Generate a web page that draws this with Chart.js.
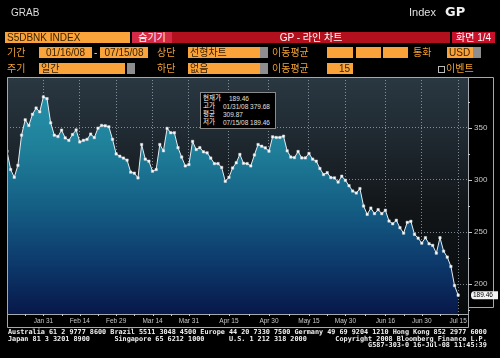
<!DOCTYPE html>
<html><head><meta charset="utf-8">
<script src="https://cdn.jsdelivr.net/npm/chart.js@4"></script>
<style>
html,body{margin:0;padding:0;background:#000;width:500px;height:358px;overflow:hidden;}
#wrap{position:relative;width:500px;height:358px;}
canvas{position:absolute;left:0;top:0;}
.t{position:absolute;font-family:"Liberation Sans","Noto Sans CJK KR",sans-serif;font-size:10px;line-height:11px;white-space:nowrap;}
.lbl{color:#f0a030;}
.box{position:absolute;background:#f9a33a;color:#3a2200;height:11px;font-family:"Liberation Sans","Noto Sans CJK KR",sans-serif;font-size:10px;line-height:11px;white-space:nowrap;overflow:hidden;box-sizing:border-box;padding-left:2px;}
.gray{position:absolute;background:#8e8e8e;height:11px;}
.red{position:absolute;color:#fff;height:11px;font-family:"Liberation Sans","Noto Sans CJK KR",sans-serif;font-size:10px;line-height:11px;text-align:center;white-space:nowrap;}
#info{position:absolute;left:200px;top:92px;width:76px;height:37px;background:#000;border:1px solid #8a8a8a;box-sizing:border-box;}
#info div{position:absolute;font-family:"Liberation Sans","Noto Sans CJK KR",sans-serif;font-size:6.5px;line-height:7px;color:#e0e0e0;white-space:nowrap;}
#foot{position:absolute;left:8px;top:329px;margin:0;font-family:"DejaVu Sans Mono","Liberation Mono",monospace;font-weight:bold;font-size:6.8px;line-height:6.6px;color:#f0f0f0;white-space:pre;}
</style></head>
<body><div id="wrap">
<canvas id="c" width="500" height="358"></canvas>

<div class="t" style="left:11px;top:7px;color:#dcdcdc;">GRAB</div>
<div class="t" style="left:409px;top:7px;color:#e0e0e0;font-size:11px;">Index</div>
<div class="t" style="left:445px;top:5px;color:#f0f0f0;font-size:13px;font-weight:bold;font-family:'DejaVu Sans',sans-serif;line-height:14px;">GP</div>

<!-- row 1 -->
<div class="box" style="left:5px;top:32px;width:125px;">S5DBNK INDEX</div>
<div class="red" style="left:132px;top:32px;width:40px;background:#d42a45;">숨기기</div>
<div class="red" style="left:172px;top:32px;width:278px;background:#b3101e;">GP - 라인 차트</div>
<div class="red" style="left:452px;top:32px;width:43px;background:#c8102a;">화면 1/4</div>

<!-- row 2 -->
<div class="t lbl" style="left:7px;top:47px;">기간</div>
<div class="box" style="left:39px;top:47px;width:53px;text-align:center;padding-left:0;">01/16/08</div>
<div class="t lbl" style="left:94px;top:47px;color:#ddd;">-</div>
<div class="box" style="left:100px;top:47px;width:48px;text-align:center;padding-left:0;">07/15/08</div>
<div class="t lbl" style="left:157px;top:47px;">상단</div>
<div class="box" style="left:188px;top:47px;width:72px;">선형차트</div>
<div class="gray" style="left:260px;top:47px;width:8px;"></div>
<div class="t lbl" style="left:272px;top:47px;">이동평균</div>
<div class="box" style="left:327px;top:47px;width:26px;"></div>
<div class="box" style="left:356px;top:47px;width:25px;"></div>
<div class="box" style="left:383px;top:47px;width:25px;"></div>
<div class="t lbl" style="left:413px;top:47px;">통화</div>
<div class="box" style="left:447px;top:47px;width:26px;">USD</div>
<div class="gray" style="left:473px;top:47px;width:8px;"></div>

<!-- row 3 -->
<div class="t lbl" style="left:7px;top:63px;">주기</div>
<div class="box" style="left:39px;top:63px;width:86px;">일간</div>
<div class="gray" style="left:127px;top:63px;width:8px;"></div>
<div class="t lbl" style="left:157px;top:63px;">하단</div>
<div class="box" style="left:188px;top:63px;width:72px;">없음</div>
<div class="gray" style="left:260px;top:63px;width:8px;"></div>
<div class="t lbl" style="left:272px;top:63px;">이동평균</div>
<div class="box" style="left:327px;top:63px;width:26px;text-align:right;padding-right:3px;">15</div>
<div style="position:absolute;left:438px;top:66px;width:5px;height:5px;border:1px solid #bbb;"></div>
<div class="t lbl" style="left:446px;top:63px;">이벤트</div>

<div id="info">
  <div style="left:2px;top:1px;color:#fff;">현재가</div><div style="left:28px;top:1.5px;">189.46</div>
  <div style="left:2px;top:9px;color:#fff;">고가</div><div style="left:22px;top:9.5px;">01/31/08 379.68</div>
  <div style="left:2px;top:17px;color:#fff;">평균</div><div style="left:22px;top:17.5px;">309.87</div>
  <div style="left:2px;top:25px;color:#fff;">저가</div><div style="left:22px;top:25.5px;">07/15/08 189.46</div>
</div>

<pre id="foot">Australia 61 2 9777 8600 Brazil 5511 3048 4500 Europe 44 20 7330 7500 Germany 49 69 9204 1210 Hong Kong 852 2977 6000
Japan 81 3 3201 8900      Singapore 65 6212 1000      U.S. 1 212 318 2000       Copyright 2008 Bloomberg Finance L.P.
                                                                                        G587-303-0 16-Jul-08 11:45:39</pre>
</div>

<script>
const dates = [
'01/16/08','01/17/08','01/18/08','01/22/08','01/23/08','01/24/08','01/25/08','01/28/08','01/29/08','01/30/08','01/31/08',
'02/01/08','02/04/08','02/05/08','02/06/08','02/07/08','02/08/08','02/11/08','02/12/08','02/13/08','02/14/08','02/15/08',
'02/19/08','02/20/08','02/21/08','02/22/08','02/25/08','02/26/08','02/27/08','02/28/08','02/29/08',
'03/03/08','03/04/08','03/05/08','03/06/08','03/07/08','03/10/08','03/11/08','03/12/08','03/13/08','03/14/08',
'03/17/08','03/18/08','03/19/08','03/20/08','03/24/08','03/25/08','03/26/08','03/27/08','03/28/08','03/31/08',
'04/01/08','04/02/08','04/03/08','04/04/08','04/07/08','04/08/08','04/09/08','04/10/08','04/11/08',
'04/14/08','04/15/08','04/16/08','04/17/08','04/18/08','04/21/08','04/22/08','04/23/08','04/24/08','04/25/08',
'04/28/08','04/29/08','04/30/08',
'05/01/08','05/02/08','05/05/08','05/06/08','05/07/08','05/08/08','05/09/08','05/12/08','05/13/08','05/14/08','05/15/08','05/16/08',
'05/19/08','05/20/08','05/21/08','05/22/08','05/23/08','05/27/08','05/28/08','05/29/08','05/30/08',
'06/02/08','06/03/08','06/04/08','06/05/08','06/06/08','06/09/08','06/10/08','06/11/08','06/12/08','06/13/08',
'06/16/08','06/17/08','06/18/08','06/19/08','06/20/08','06/23/08','06/24/08','06/25/08','06/26/08','06/27/08','06/30/08',
'07/01/08','07/02/08','07/03/08','07/07/08','07/08/08','07/09/08','07/10/08','07/11/08','07/14/08','07/15/08'
];
const values = [
327.6,310.0,302.6,314.0,343.0,357.7,352.3,363.0,369.0,365.4,379.68,
378.0,354.8,343.0,341.7,347.8,340.4,338.0,343.6,348.0,336.5,338.0,
339.0,344.0,340.7,349.7,352.3,352.0,351.0,339.0,325.0,
322.8,321.0,319.0,307.5,306.5,302.0,334.0,320.0,318.0,308.4,
310.0,334.0,328.0,349.5,345.3,345.3,331.0,322.0,313.5,314.8,
337.0,329.2,331.0,327.0,326.0,321.0,315.7,315.7,312.0,
298.7,302.5,311.5,316.5,324.5,316.0,315.7,313.5,324.0,334.0,
332.4,330.8,327.6,
341.4,340.8,340.8,342.0,328.0,322.0,321.5,327.3,321.2,321.2,325.4,320.0,
318.0,311.0,305.2,307.0,302.3,302.0,298.0,303.6,299.7,
294.5,289.4,287.5,291.7,275.0,267.0,273.0,267.7,271.5,267.7,
270.9,260.6,258.0,261.3,254.2,249.0,259.3,260.3,247.8,244.2,239.4,
244.6,238.8,237.2,229.8,244.6,231.7,226.0,217.0,198.7,189.46
];
const tickDates = ['01/31/08','02/14/08','02/29/08','03/14/08','03/31/08','04/15/08','04/30/08','05/15/08','05/30/08','06/16/08','06/30/08','07/15/08'];
const tickLabels = ['Jan 31','Feb 14','Feb 29','Mar 14','Mar 31','Apr 15','Apr 30','May 15','May 30','Jun 16','Jun 30','Jul 15'];
const yTicks = [200,250,300,350];
const yMinor = [175,200,225,250,275,300,325,350,375];

const tickIdx = tickDates.map(d => dates.indexOf(d));
const points = values.map((v,i) => ({x:i, y:v}));

const deco = {
  id:'deco',
  beforeDraw(chart){
    const {ctx, chartArea:a} = chart;
    ctx.save();
    const g = ctx.createLinearGradient(0,a.top,0,a.bottom);
    g.addColorStop(0,'#2a3842');
    g.addColorStop(0.3,'#1d262d');
    g.addColorStop(0.55,'#121619');
    g.addColorStop(1,'#08090a');
    ctx.fillStyle = g;
    ctx.fillRect(a.left,a.top,a.right-a.left,a.bottom-a.top);
    ctx.restore();
  },
  afterDraw(chart){
    const {ctx, chartArea:a, scales} = chart;
    const ys = scales.y, xs = scales.x;
    ctx.save();
    ctx.strokeStyle = '#a4a9ae';
    ctx.lineWidth = 1;
    ctx.beginPath();
    ctx.moveTo(7.5,77.5); ctx.lineTo(493.5,77.5); ctx.lineTo(493.5,307.5);
    ctx.lineTo(468.5,307.5); ctx.lineTo(468.5,327.5); ctx.lineTo(7.5,327.5); ctx.closePath();
    ctx.moveTo(468.5,77.5); ctx.lineTo(468.5,307.5);
    ctx.moveTo(7.5,Math.round(a.bottom)+0.5); ctx.lineTo(468.5,Math.round(a.bottom)+0.5);
    ctx.stroke();
    ctx.strokeStyle = '#c8c8c8';
    ctx.beginPath();
    yMinor.forEach(v=>{
      const y = Math.round(ys.getPixelForValue(v))+0.5;
      const len = (v%50===0)?4:2;
      ctx.moveTo(a.right,y); ctx.lineTo(a.right+len,y);
    });
    const yb = Math.round(a.bottom);
    tickIdx.forEach((t,k)=>{
      const x = Math.round(xs.getPixelForValue(t))+0.5;
      ctx.moveTo(x,yb); ctx.lineTo(x,yb+2);
      const prev = k===0 ? 0 : tickIdx[k-1];
      const xm = Math.round(xs.getPixelForValue((t+prev)/2))+0.5;
      ctx.moveTo(xm,yb); ctx.lineTo(xm,yb+2);
    });
    ctx.stroke();
    const last = values[values.length-1];
    const y = ys.getPixelForValue(last);
    ctx.fillStyle = '#f2f2f2';
    ctx.beginPath();
    const x0=471, x1=498, h=4;
    ctx.moveTo(x0+3,y-h); ctx.lineTo(x1,y-h); ctx.lineTo(x1,y+h); ctx.lineTo(x0+3,y+h);
    ctx.quadraticCurveTo(x0,y+h,x0,y); ctx.quadraticCurveTo(x0,y-h,x0+3,y-h);
    ctx.fill();
    ctx.fillStyle = '#000';
    ctx.font = '6.5px "Liberation Sans"';
    ctx.textBaseline = 'middle';
    ctx.fillText(last.toFixed(2), 473, y+0.5);
    ctx.restore();
  }
};

new Chart(document.getElementById('c'), {
  type:'line',
  data:{ datasets:[{
    data: points,
    borderColor:'#e6edf2',
    borderWidth:1,
    tension:0,
    pointStyle:'rect',
    pointRadius:1.7,
    pointBackgroundColor:'#ffffff',
    pointBorderColor:'#cfd6dc',
    pointBorderWidth:0.5,
    fill:'start',
    backgroundColor:(ctx)=>{
      const a = ctx.chart.chartArea;
      if(!a) return 'rgba(30,120,150,0.8)';
      const g = ctx.chart.ctx.createLinearGradient(0,a.top,0,a.bottom);
      g.addColorStop(0,'#2a98b0');
      g.addColorStop(0.3,'#1f7f99');
      g.addColorStop(0.55,'#145e84');
      g.addColorStop(0.78,'#0d3a6c');
      g.addColorStop(1,'#08184a');
      return g;
    }
  }]},
  options:{
    responsive:false,
    devicePixelRatio:1,
    animation:false,
    layout:{padding:{left:7,top:77,right:7,bottom:31}},
    plugins:{legend:{display:false},tooltip:{enabled:false}},
    scales:{
      x:{
        type:'linear', min:0, max:126.7, z:1,
        afterBuildTicks:s=>{ s.ticks = tickIdx.map(v=>({value:v})); },
        afterFit:s=>{ s.height = 13; },
        ticks:{ autoSkip:false, maxRotation:0, padding:3, color:'#c8c8c8',
          font:{size:6.5,family:'"Liberation Sans"'},
          callback:(v,i)=>tickLabels[i] },
        grid:{ color:'rgba(160,175,190,0.75)', lineWidth:1, drawTicks:false },
        border:{ display:false, dash:[1,2] }
      },
      y:{
        type:'linear', position:'right', min:171.4, max:398.8, z:1,
        afterBuildTicks:s=>{ s.ticks = yTicks.map(v=>({value:v})); },
        afterFit:s=>{ s.width = 25; },
        ticks:{ padding:6, color:'#c8c8c8', font:{size:8,family:'"Liberation Sans"'},
          callback:v=>String(v) },
        grid:{ color:'rgba(160,175,190,0.75)', lineWidth:1, drawTicks:false },
        border:{ display:false, dash:[1,2] }
      }
    }
  },
  plugins:[deco]
});
</script>
</body></html>
